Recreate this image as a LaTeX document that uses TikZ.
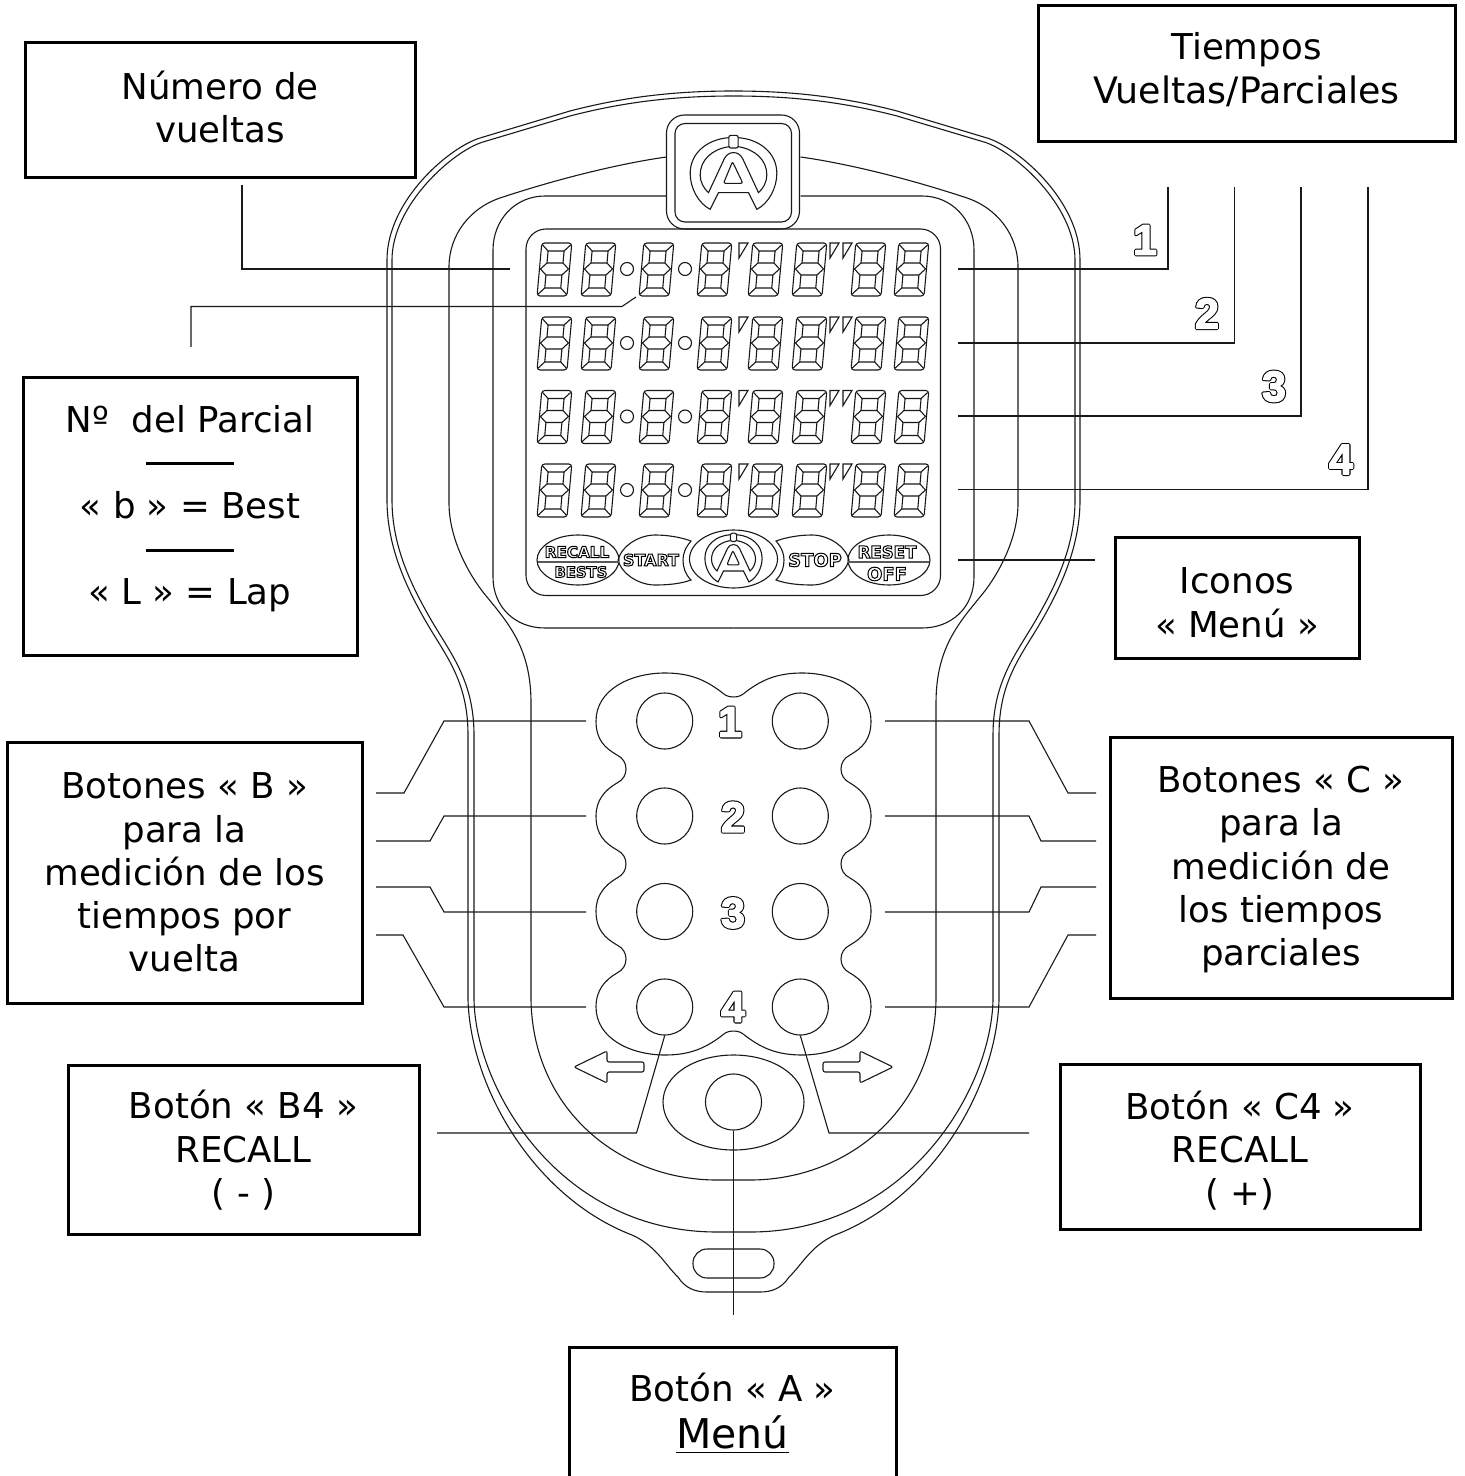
\documentclass[tikz,border=0pt]{standalone}
\usepackage{fontspec}
\setmainfont{DejaVu Sans}
\newfontfamily\numfont{Liberation Sans}
\usepackage{xcolor}
\definecolor{boxdraw}{rgb}{0,0,0}
\definecolor{casedraw}{rgb}{0.10,0.10,0.10}
\definecolor{bardraw}{rgb}{0.35,0.35,0.35}
\usetikzlibrary{positioning}

\newcommand{\outlined}[1]{\special{pdf:code 1 Tr 0.5 w}#1\special{pdf:code 0 Tr}}
\newcommand{\heavyoutlined}[1]{\special{pdf:code 2 Tr 1 j 1.7 w}\rlap{#1}\special{pdf:code 1 g 1 G 2 Tr 0.65 w}#1\special{pdf:code 0 g 0 G 0 Tr 0 j}}
\newcommand{\iconsize}[1]{\fontsize{#1}{#1}\selectfont\bfseries}
\newcommand{\casehalf}{%
  \draw[caseline] (733.5,91) .. controls (670,91) and (620,98) .. (570,111) -- (480,138)
     .. controls (450,147) and (387,200) .. (387,260) -- (387,500)
     .. controls (387,545) and (405,585) .. (425,620) .. controls (445,655) and (468,680) .. (468,735)
     -- (468,1000) .. controls (471,1090) and (535,1195) .. (627,1233)
     .. controls (655,1243) and (665,1265) .. (678,1277) .. controls (685,1288) and (695,1292) .. (707,1292) -- (733.5,1292);
  \draw[caseline] (733.5,96) .. controls (670,96) and (620,103) .. (570,116) -- (483,142)
     .. controls (453,151) and (392,205) .. (392,260) -- (392,500)
     .. controls (392,545) and (410,583) .. (430,618) .. controls (450,653) and (474,680) .. (474,735)
     -- (474,1000) .. controls (476,1090) and (560,1232) .. (717,1232) -- (733.5,1232);
  \draw[caseline] (666.5,157) .. controls (630,162) and (570,175) .. (503,197)
     .. controls (470,207) and (449,235) .. (449,267) -- (449,503)
     .. controls (449,540) and (470,577) .. (487,597) .. controls (510,625) and (531,650) .. (531,703)
     -- (531,1000) .. controls (533,1110) and (620,1180) .. (717,1180) -- (733.5,1180);
  \draw[caseline] (666.5,196) -- (545,196) .. controls (515,196) and (493,220) .. (493,250) -- (493,577)
     .. controls (493,607) and (515,628) .. (545,628) -- (733.5,628);
  % keypad outline
  \draw[caseline] (733.5,697) .. controls (727,697) and (725,695) .. (720,691) .. controls (705,680) and (690,673) .. (665,673)
     .. controls (630,673) and (596,690) .. (596,721) .. controls (596,740) and (605,748) .. (617,755)
     .. controls (623,758) and (626,763) .. (626,769) .. controls (626,775) and (623,780) .. (617,783)
     .. controls (605,790) and (596,800) .. (596,816) .. controls (596,835) and (605,843) .. (617,850)
     .. controls (623,853) and (626,858) .. (626,864) .. controls (626,870) and (623,875) .. (617,878)
     .. controls (605,885) and (596,895) .. (596,911) .. controls (596,930) and (605,938) .. (617,945)
     .. controls (623,948) and (626,953) .. (626,959) .. controls (626,965) and (623,970) .. (617,973)
     .. controls (605,980) and (596,990) .. (596,1007) .. controls (596,1038) and (630,1055) .. (665,1055)
     .. controls (690,1055) and (705,1048) .. (720,1037) .. controls (725,1033) and (727,1031) .. (733.5,1031);
  \draw[caseline] (733.5,1055) .. controls (695,1055) and (663,1075) .. (663,1102) .. controls (663,1130) and (695,1150) .. (733.5,1150);
  \draw[caseline, rounded corners=1pt] (574,1067) -- (607,1051) -- (607,1062) -- (644,1062) -- (644,1072) -- (607,1072) -- (607,1083) -- cycle;
  % start / stop icon
  \draw[caseline] (618,560) .. controls (622,545) and (640,535) .. (655,535) .. controls (667,535) and (680,537) .. (691,541)
     .. controls (685,548) and (683,554) .. (683,560) .. controls (683,567) and (685,574) .. (691,580)
     .. controls (680,584) and (667,585) .. (655,585) .. controls (640,585) and (622,575) .. (618,560) -- cycle;
  \draw[caseline] (578,560) ellipse [x radius=41, y radius=25];
  \draw[bardraw, line width=1.1pt] (538,562) -- (619,562);
}

\tikzset{
  lcddigit/.pic={
    \begin{scope}[xslant=0.09, line width=0.55pt, draw=casedraw]
      \draw[rounded corners=1.5pt] (0,0) rectangle (30,53);
      \draw (7,8) rectangle (23,20);
      \draw (7,32) rectangle (23,45);
      \draw (1,26) -- (7,20) (23,20) -- (29,26) -- (23,32) (7,32) -- (1,26);
      \draw (7,8) -- (1,2) (23,8) -- (29,2) (7,45) -- (1,51) (23,45) -- (29,51);
    \end{scope}
  },
  logomark/.pic={
    \draw (-14,-97) .. controls (-80,-92) and (-130,-50) .. (-130,10) .. controls (-130,55) and (-105,100) .. (-70,118)
       -- (-45,68) -- (45,68) -- (70,118) .. controls (105,100) and (130,55) .. (130,10) .. controls (130,-50) and (80,-92) .. (14,-97);
    \draw (-14,-70) .. controls (-65,-62) and (-100,-30) .. (-100,15) .. controls (-100,35) and (-90,55) .. (-75,68)
       -- (-27,-35) .. controls (-15,-58) and (15,-58) .. (27,-35) -- (75,68)
       .. controls (90,55) and (100,35) .. (100,15) .. controls (100,-30) and (65,-62) .. (14,-70);
    \draw[rounded corners=1pt] (-14,-104) rectangle (14,-66);
    \draw[rounded corners=1pt] (-3,-25) -- (-30,40) -- (28,40) -- cycle;
  }
}

\begin{document}
\begin{tikzpicture}[
  x=0.5pt, y=-0.5pt,
  labelbox/.style ={rectangle, draw=boxdraw, line width=1.5pt, align=center, inner sep=0pt, font=\fontsize{17.8}{21.6}\selectfont},
  caseline/.style ={draw=casedraw, line width=0.55pt},
  leader/.style   ={draw=casedraw, line width=0.55pt},
  keycircle/.style={circle, draw=casedraw, line width=0.55pt, minimum size=28pt, inner sep=0pt},
  outnum/.style   ={inner sep=0pt, font=\numfont\fontsize{21.5}{22}\selectfont\bfseries},
  iconlabel/.style={inner sep=0pt}
]
\clip (0,0) rectangle (1464,1476);

\casehalf
\begin{scope}[shift={(1467,0)}, xscale=-1]
  \casehalf
\end{scope}

% badge and display
\draw[caseline, rounded corners=9pt] (666.5,115) rectangle (799.5,229);
\draw[caseline, rounded corners=5pt] (675,123.5) rectangle (791.5,222);
\draw[caseline, rounded corners=10pt] (526,229) rectangle (940.5,595.5);
\pic[caseline, scale=0.3333] at (733.5,170) {logomark};

\foreach \rowtop in {243,317,390.5,464}{
  \foreach \digitx in {537,581,639,697,748,792,851,894}
    \pic at (\digitx+4.8,\rowtop) {lcddigit};
  \draw[caseline] (627,\rowtop+26) circle [radius=6.5];
  \draw[caseline] (685,\rowtop+26) circle [radius=6.5];
  \foreach \tickx in {739,830,843}
    \draw[caseline] (\tickx,\rowtop) -- (\tickx+9,\rowtop) -- (\tickx,\rowtop+15) -- cycle;
}

% icon row
\draw[caseline] (733.5,559) ellipse [x radius=44, y radius=29];
\pic[caseline, scale=0.22] at (733.5,556) {logomark};
\node[iconlabel] (recalltxt) at (577,552) {\iconsize{7.6}\outlined{RECALL}};
\node[iconlabel] (beststxt)  at (581,572) {\iconsize{7.4}\outlined{BESTS}};
\node[iconlabel] (starttxt)  at (651,560) {\iconsize{8}\outlined{START}};
\node[iconlabel] (stoptxt)   at (815,560) {\iconsize{9}\outlined{STOP}};
\node[iconlabel] (resettxt)  at (887,552) {\iconsize{8.3}\outlined{RESET}};
\node[iconlabel] (offtxt)    at (887,574) {\iconsize{9}\outlined{OFF}};

% keypad
\foreach \keyy/\keyn in {721/1,816/2,911.5/3,1007/4}{
  \node[keycircle] (b\keyn) at (664.7,\keyy) {};
  \node[keycircle] (c\keyn) at (800.3,\keyy) {};
}
\node[keycircle] (abtn) at (733.5,1102) {};
\node[outnum] (padone)   at (730,722)  {\heavyoutlined{1}};
\node[outnum] (padtwo)   at (733,817)  {\heavyoutlined{2}};
\node[outnum] (padthree) at (733,913)  {\heavyoutlined{3}};
\node[outnum] (padfour)  at (733,1007) {\heavyoutlined{4}};
\node[outnum] (timeone)   at (1145,240)   {\heavyoutlined{1}};
\node[outnum] (timetwo)   at (1207,313.5) {\heavyoutlined{2}};
\node[outnum] (timethree) at (1274,386.5) {\heavyoutlined{3}};
\node[outnum] (timefour)  at (1341,459.5) {\heavyoutlined{4}};

\draw[caseline, rounded corners=7pt] (693,1249) rectangle (774,1278);

% text boxes, the zero-width rules nudge the text inside its box
\node[labelbox, minimum width=195pt,   minimum height=67.5pt] (lapsbox)  at (220,110.5)  {Número de\\vueltas\rule[-4pt]{0pt}{0pt}};
\node[labelbox, minimum width=208.5pt, minimum height=68pt]   (timesbox) at (1246.5,74)   {Tiempos\\\fontsize{18.2}{21.6}\selectfont Vueltas/Parciales\rule[-6pt]{0pt}{0pt}};
\node[labelbox, minimum width=167pt,   minimum height=139pt]  (splitbox) at (190,516)
   {Nº~~del Parcial\\\rule[5pt]{44pt}{1.5pt}\\« b » = Best\\\rule[5pt]{44pt}{1.5pt}\\« L » = Lap\rule[-11pt]{0pt}{0pt}};
\node[labelbox, minimum width=122pt,   minimum height=60.5pt] (iconsbox) at (1237,597.5) {\rule{0pt}{18.3pt}Iconos\\« Menú »};
\node[labelbox, minimum width=177.5pt, minimum height=130.5pt] (bbox)    at (184.5,872.5)
   {Botones « B »\\para la\\medición de los\\tiempos por\\vuelta};
\node[labelbox, minimum width=171pt,   minimum height=130.5pt] (cbox)    at (1281,867.5)
   {\rule{0pt}{15.3pt}Botones « C »\\para la\\medición de\\los tiempos\\parciales};
\node[labelbox, minimum width=175.5pt, minimum height=84.5pt] (bfourbox) at (243.5,1149.5) {\rule{0pt}{15pt}Botón « B4 »\\RECALL\\( - )};
\node[labelbox, minimum width=180pt,   minimum height=82.5pt] (cfourbox) at (1240,1146.5) {\rule{0pt}{18.6pt}Botón « C4 »\\RECALL\\( +)};
\node[labelbox, minimum width=163.5pt, minimum height=66pt]   (abox)     at (732.5,1413)
   {Botón « A »\\[2pt]{\fontsize{20.5}{24}\selectfont\underline{Menú}}};

% free ends of the leaders
\coordinate (lapstop) at (242,185);
\coordinate (lapsend) at (510,269);
\coordinate (splittop) at (191,347);
\coordinate (splitend) at (636,297);
\coordinate (timeonea)   at (958,269);
\coordinate (timetwoa)   at (958,343);
\coordinate (timethreea) at (958,416);
\coordinate (timefoura)  at (958,489.5);
\coordinate (timeoneb)   at (1168,187);
\coordinate (timetwob)   at (1234.5,187);
\coordinate (timethreeb) at (1301,187);
\coordinate (timefourb)  at (1368,187);
\coordinate (iconsa) at (958,560);
\coordinate (iconsb) at (1095,560);
\coordinate (bfourend) at (437,1133);
\coordinate (cfourend) at (1029,1133);
\coordinate (aend) at (733.5,1315);

\draw[leader] (lapstop) -- (lapstop |- lapsend) -- (lapsend);
\draw[leader] (splittop) -- (191,306.5) -- (622,306.5) -- (splitend);
\draw[leader] (timeonea)   -- (timeonea -| timeoneb)     -- (timeoneb);
\draw[leader] (timetwoa)   -- (timetwoa -| timetwob)     -- (timetwob);
\draw[leader] (timethreea) -- (timethreea -| timethreeb) -- (timethreeb);
\draw[leader] (timefoura)  -- (timefoura -| timefourb)   -- (timefourb);
\draw[leader] (iconsa) -- (iconsb);

% keypad leaders, outer pair slanted further than inner pair
\coordinate (bla) at (586,721);  \coordinate (blb) at (376,793);
\coordinate (bma) at (586,816);  \coordinate (bmb) at (376,841);
\coordinate (bna) at (586,912);  \coordinate (bnb) at (376,887);
\coordinate (boa) at (586,1007); \coordinate (bob) at (376,935);
\coordinate (cla) at (885,721);  \coordinate (clb) at (1096,793);
\coordinate (cma) at (885,816);  \coordinate (cmb) at (1096,841);
\coordinate (cna) at (885,912);  \coordinate (cnb) at (1096,887);
\coordinate (coa) at (885,1007); \coordinate (cob) at (1096,935);
\draw[leader] (bla) -- (444,721)  -- (404,793) -- (blb);
\draw[leader] (bma) -- (444,816)  -- (430,841) -- (bmb);
\draw[leader] (bna) -- (444,912)  -- (430,887) -- (bnb);
\draw[leader] (boa) -- (444,1007) -- (403,935) -- (bob);
\draw[leader] (cla) -- (1029,721)  -- (1068,793) -- (clb);
\draw[leader] (cma) -- (1029,816)  -- (1041,841) -- (cmb);
\draw[leader] (cna) -- (1029,912)  -- (1041,887) -- (cnb);
\draw[leader] (coa) -- (1029,1007) -- (1068,935) -- (cob);

\draw[leader] (b4.south) -- (636.5,1133) -- (bfourend);
\draw[leader] (c4.south) -- (829,1133) -- (cfourend);
\draw[leader] (abtn.south) -- (aend);

\end{tikzpicture}
\end{document}
